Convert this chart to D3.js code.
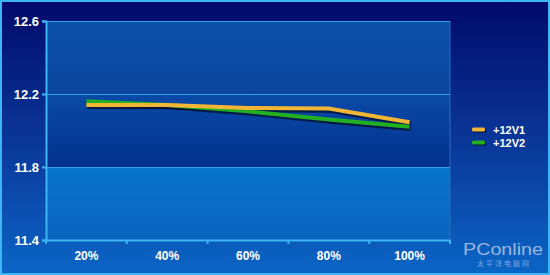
<!DOCTYPE html>
<html><head><meta charset="utf-8">
<script src="https://cdn.jsdelivr.net/npm/d3@7"></script>
<style>html,body{margin:0;padding:0;background:#00106e;}svg{display:block;}</style>
</head><body>
<svg id="c" width="550" height="275"></svg>
<script>
const categories = ["20%","40%","60%","80%","100%"];
const seriesNames = ["+12V1","+12V2"];
const v1 = [12.14, 12.14, 12.123, 12.12, 12.045];
const v2 = [12.16, 12.14, 12.105, 12.06, 12.02];
const yTicks = [11.4, 11.8, 12.2, 12.6];
const colors = ["#f2b636","#22b022"];

const svg = d3.select("#c");
const W=550,H=275;
const m={l:46,r:100,t:21,b:35};
const defs = svg.append("defs");
const bg = defs.append("linearGradient").attr("id","bg").attr("x1",0).attr("y1",0).attr("x2",0).attr("y2",1);
bg.append("stop").attr("offset","0%").attr("stop-color","#000a6a");
bg.append("stop").attr("offset","55%").attr("stop-color","#0a3a9c");
bg.append("stop").attr("offset","100%").attr("stop-color","#0a66c6");
svg.append("rect").attr("x",0).attr("y",0).attr("width",W).attr("height",H).attr("fill","url(#bg)");
svg.append("rect").attr("x",1).attr("y",1).attr("width",W-2).attr("height",H-2).attr("fill","none").attr("stroke","#3cb6f2").attr("stroke-width",2);

const x = d3.scaleBand().domain(categories).range([m.l,450]);
const y = d3.scaleLinear().domain([11.4,12.6]).range([240,21]);

// bands
const bandCols = [["#0a64be","#0874cc"],["#03308e","#0a4aa8"],["#0a46a0","#0a50aa"]];
for(let i=0;i<3;i++){
  const g = defs.append("linearGradient").attr("id","band"+i).attr("x1",0).attr("y1",0).attr("x2",0).attr("y2",1);
  g.append("stop").attr("offset","0%").attr("stop-color",bandCols[i][1]);
  g.append("stop").attr("offset","100%").attr("stop-color",bandCols[i][0]);
  svg.append("rect").attr("x",m.l).attr("width",450-m.l)
    .attr("y",y(yTicks[i+1])).attr("height",y(yTicks[i])-y(yTicks[i+1]))
    .attr("fill","url(#band"+i+")");
}
svg.append("line").attr("x1",450).attr("x2",450).attr("y1",y(12.6)).attr("y2",y(11.4)).attr("stroke","#2a6cc0").attr("stroke-width",1);

svg.append("g").selectAll("line").data(yTicks.slice(1)).join("line")
  .attr("x1",m.l).attr("x2",450).attr("y1",d=>y(d)+0.5).attr("y2",d=>y(d)+0.5)
  .attr("stroke","#3a9ee6").attr("stroke-width",1);

const yAxis = d3.axisLeft(y).tickValues(yTicks).tickFormat(d3.format(".1f")).tickSize(4).tickPadding(3);
const ya = svg.append("g").attr("transform",`translate(${m.l},0)`).call(yAxis);
ya.select(".domain").attr("stroke","#3cb6f2").attr("stroke-width",2);
ya.selectAll(".tick line").attr("stroke","#3cb6f2").attr("stroke-width",2);
ya.selectAll("text").attr("fill","#ffffff").attr("font-family","Liberation Sans, Arial, sans-serif").attr("font-weight","bold").attr("font-size","13px");

const xa = svg.append("g").attr("transform",`translate(0,${y(11.4)})`).call(d3.axisBottom(x).tickSize(0).tickPadding(11));
xa.select(".domain").attr("stroke","#3cb6f2").attr("stroke-width",2);
xa.selectAll("text").attr("fill","#ffffff").attr("font-family","Liberation Sans, Arial, sans-serif").attr("font-weight","bold").attr("font-size","12px");
const bounds = categories.map(c=>x(c)+x.bandwidth()).concat([x(categories[0])]);
svg.append("g").selectAll("line").data(bounds).join("line")
  .attr("x1",d=>d).attr("x2",d=>d).attr("y1",y(11.4)).attr("y2",y(11.4)+4)
  .attr("stroke","#3cb6f2").attr("stroke-width",2);

const line = d3.line().x((d,i)=>x(categories[i])+x.bandwidth()/2).y(d=>y(d));
[v1,v2].forEach((s,k)=>{
  svg.append("path").attr("d",line(s)).attr("fill","none").attr("stroke","#001030").attr("stroke-width",5.5)
    .attr("transform","translate(1,1.5)").attr("opacity",0.8);
});
[v2,v1].forEach((s,k)=>{
  svg.append("path").attr("d",line(s)).attr("fill","none").attr("stroke",colors[1-k]).attr("stroke-width",4).attr("stroke-linejoin","miter");
});

const lg = svg.append("g");
seriesNames.forEach((n,i)=>{
  const yy = 130 + i*13;
  lg.append("rect").attr("x",473).attr("y",yy-1.5).attr("width",13).attr("height",4).attr("fill","#001030").attr("rx",1);
  lg.append("rect").attr("x",472).attr("y",yy-2.5).attr("width",13).attr("height",4).attr("fill",colors[i]).attr("rx",1.5);
  lg.append("text").attr("x",493).attr("y",yy+4).text(n).attr("fill","#fff")
    .attr("font-family","Liberation Sans, Arial, sans-serif").attr("font-weight","bold").attr("font-size","11px");
});

svg.append("text").attr("x",463).attr("y",255).text("PConline").attr("fill","#c8d4ec").attr("opacity",0.75)
  .attr("font-family","Liberation Sans, Arial, sans-serif").attr("font-size","16px").attr("textLength",80).attr("lengthAdjust","spacingAndGlyphs");
svg.append("text").attr("x",477).attr("y",266).text("太平洋电脑网").attr("fill","#c8d4ec").attr("opacity",0.6)
  .attr("font-family","Noto Sans CJK SC").attr("font-size","7px").attr("letter-spacing","2px");
</script>
</body></html>
